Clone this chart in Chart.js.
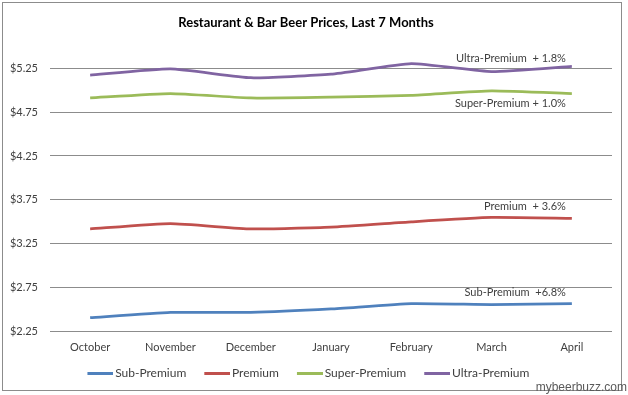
<!DOCTYPE html>
<html>
<head>
<meta charset="utf-8">
<script src="https://cdn.jsdelivr.net/npm/chart.js@4"></script>
<style>
  html, body { margin: 0; padding: 0; background: #fff; }
  #wrap { width: 628px; height: 395px; position: relative; }
</style>
</head>
<body>
<div id="wrap"><canvas id="beerChart"></canvas></div>
<script>
const months = ['October', 'November', 'December', 'January', 'February', 'March', 'April'];
const subPremium = [2.41, 2.47, 2.47, 2.51, 2.57, 2.56, 2.57];
const premium = [3.42, 3.48, 3.42, 3.44, 3.50, 3.55, 3.54];
const superPremium = [4.91, 4.96, 4.91, 4.92, 4.94, 4.99, 4.96];
const ultraPremium = [5.17, 5.24, 5.14, 5.18, 5.30, 5.21, 5.27];
const yTicks = [2.25, 2.75, 3.25, 3.75, 4.25, 4.75, 5.25];
const growthLabels = ['Sub-Premium  +6.8%', 'Premium  + 3.6%', 'Super-Premium + 1.0%', 'Ultra-Premium  + 1.8%'];

const FONT = 'Lato, "Open Sans", sans-serif';

// legend swatch: 26px line on the right side of a 35px canvas,
// so the label text sits right next to it like in Excel
function swatch(color) {
    const c = document.createElement('canvas');
    c.width = 35;
    c.height = 3;
    const g = c.getContext('2d');
    g.fillStyle = color;
    g.fillRect(9, 0, 26, 3);
    return c;
}

// growth notes next to the last point of each line, border and watermark
const notesPlugin = {
    id: 'notes',
    afterDatasetsDraw(chart) {
        const ctx = chart.ctx;
        const xs = chart.scales.x;
        const ys = chart.scales.y;
        const last = months.length - 1;
        const shift = [-11, -12, 10, -8];
        ctx.save();
        ctx.font = '11px ' + FONT;
        ctx.fillStyle = '#404040';
        ctx.textAlign = 'right';
        ctx.textBaseline = 'middle';
        chart.data.datasets.forEach((ds, i) => {
            const x = xs.getPixelForValue(last) - 6;
            const y = ys.getPixelForValue(ds.data[last]) + shift[i];
            ctx.fillText(growthLabels[i], x, y);
        });
        ctx.restore();
    },
    afterDraw(chart) {
        const ctx = chart.ctx;
        ctx.save();
        ctx.strokeStyle = '#8c8c8c';
        ctx.lineWidth = 1;
        ctx.strokeRect(2.5, 2.5, 619, 388);
        ctx.font = '12px "Liberation Sans", Arial, sans-serif';
        ctx.fillStyle = '#5a5a5a';
        ctx.textAlign = 'right';
        ctx.textBaseline = 'middle';
        ctx.fillText('mybeerbuzz.com', 627, 388);
        ctx.restore();
    }
};

const CHART = document.getElementById('beerChart');
let beerChart = new Chart(CHART, {
    type: 'line',
    data: {
        labels: months,
        datasets: [{
            label: 'Sub-Premium',
            data: subPremium,
            borderColor: '#4f81bd',
            backgroundColor: '#4f81bd'
        }, {
            label: 'Premium',
            data: premium,
            borderColor: '#c0504d',
            backgroundColor: '#c0504d'
        }, {
            label: 'Super-Premium',
            data: superPremium,
            borderColor: '#9bbb59',
            backgroundColor: '#9bbb59'
        }, {
            label: 'Ultra-Premium',
            data: ultraPremium,
            borderColor: '#8064a2',
            backgroundColor: '#8064a2'
        }]
    },
    options: {
        responsive: true,
        maintainAspectRatio: false,
        animation: false,
        devicePixelRatio: 1,
        layout: { padding: { left: 0, right: 16, top: 4, bottom: 6 } },
        elements: {
            line: { borderWidth: 2.75, tension: 0.15 },
            point: { radius: 0, hoverRadius: 0 }
        },
        scales: {
            x: {
                offset: true,
                afterFit(scale) {
                    scale.height = 22;
                },
                grid: { display: false, drawTicks: false },
                border: { display: false },
                ticks: { color: '#404040', font: { family: FONT, size: 11 }, padding: 9, maxRotation: 0 }
            },
            y: {
                min: 2.25,
                max: 5.5,
                afterBuildTicks(scale) {
                    scale.ticks = yTicks.map(v => ({ value: v }));
                },
                afterFit(scale) {
                    scale.width = 50;
                },
                grid: { color: '#8c8c8c', drawTicks: false },
                border: { display: false },
                ticks: {
                    color: '#404040',
                    font: { family: FONT, size: 11 },
                    padding: 12,
                    callback: v => '$' + Number(v).toFixed(2)
                }
            }
        },
        plugins: {
            title: {
                display: true,
                text: 'Restaurant & Bar Beer Prices, Last 7 Months',
                color: '#000',
                font: { family: FONT, size: 13, weight: 'bold' },
                padding: { top: 11, bottom: 15.5 }
            },
            legend: {
                position: 'bottom',
                labels: {
                    usePointStyle: true,
                    pointStyleWidth: 26.5,
                    color: '#404040',
                    font: { family: FONT, size: 12 },
                    padding: 13.25,
                    generateLabels(chart) {
                        return Chart.defaults.plugins.legend.labels.generateLabels(chart).map(item => {
                            const ds = chart.data.datasets[item.datasetIndex];
                            item.pointStyle = swatch(ds.borderColor);
                            item.strokeStyle = ds.borderColor;
                            item.fillStyle = ds.borderColor;
                            item.lineWidth = 0;
                            return item;
                        });
                    }
                }
            },
            tooltip: { enabled: false }
        }
    },
    plugins: [notesPlugin]
});
</script>
</body>
</html>
